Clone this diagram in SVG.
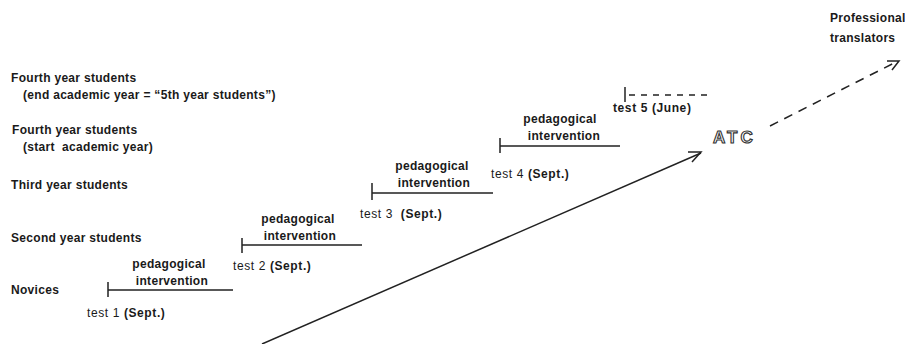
<svg xmlns="http://www.w3.org/2000/svg" width="905" height="344" viewBox="0 0 905 344">
<defs>
<style>
.t{font-family:"Liberation Sans",Arial,sans-serif;font-size:12px;font-weight:bold;fill:#1a1a1a;letter-spacing:0.3px;white-space:pre}
.ts{letter-spacing:0.6px}
.tc{text-anchor:middle}
.r{font-weight:normal}
.ln{stroke:#222;stroke-width:1.5;fill:none}
.atc{font-family:"Liberation Sans",Arial,sans-serif;font-size:17px;font-weight:bold;fill:#fff;stroke:#333;stroke-width:1.1;letter-spacing:3px}
</style>
</defs>
<rect width="905" height="344" fill="#fff"/>
<g id="levels">
<text class="t" x="11" y="82">Fourth year students</text>
<text class="t" x="23" y="99">(end academic year = “5th year students”)</text>
<text class="t" x="12" y="134">Fourth year students</text>
<text class="t" x="23" y="151" xml:space="preserve">(start  academic year)</text>
<text class="t" x="11" y="189">Third year students</text>
<text class="t" x="11" y="242">Second year students</text>
<text class="t" x="11" y="294">Novices</text>
</g>
<g id="step1">
<path class="ln" d="M108 282V297M108 290H233"/>
<text class="t tc" x="169" y="268">pedagogical</text>
<text class="t tc" x="172" y="285">intervention</text>
<text class="t ts" x="87" y="317" xml:space="preserve"><tspan class="r">test 1 </tspan>(Sept.)</text>
</g>
<g id="step2">
<path class="ln" d="M242 238V253M242 245H362"/>
<text class="t tc" x="298" y="223">pedagogical</text>
<text class="t tc" x="300" y="240">intervention</text>
<text class="t ts" x="233" y="270" xml:space="preserve"><tspan class="r">test 2 </tspan>(Sept.)</text>
</g>
<g id="step3">
<path class="ln" d="M372 183V200M372 193H493"/>
<text class="t tc" x="432" y="170">pedagogical</text>
<text class="t tc" x="434" y="187">intervention</text>
<text class="t ts" x="360" y="218" xml:space="preserve"><tspan class="r">test 3  </tspan>(Sept.)</text>
</g>
<g id="step4">
<path class="ln" d="M500 138V153M500 146H620"/>
<text class="t tc" x="560" y="123">pedagogical</text>
<text class="t tc" x="564" y="140">intervention</text>
<text class="t ts" x="491" y="178" xml:space="preserve"><tspan class="r">test 4 </tspan>(Sept.)</text>
</g>
<g id="step5">
<path class="ln" d="M625 87V102"/>
<path class="ln" d="M629 95H712" stroke-dasharray="6 6"/>
<text class="t ts" x="613" y="112">test 5 (June)</text>
</g>
<g id="atc">
<text class="atc" x="713" y="143">ATC</text>
</g>
<g id="professional">
<text class="t" x="830" y="22">Professional</text>
<text class="t" x="830" y="42">translators</text>
</g>
<g id="connectors">
<path class="ln" d="M262 344L701 153"/>
<path class="ln" d="M688 152H701L692 162"/>
<path class="ln" d="M770 126L898 61" stroke-dasharray="9 7"/>
<path class="ln" d="M887 61H899L892 70"/>
</g>
</svg>
